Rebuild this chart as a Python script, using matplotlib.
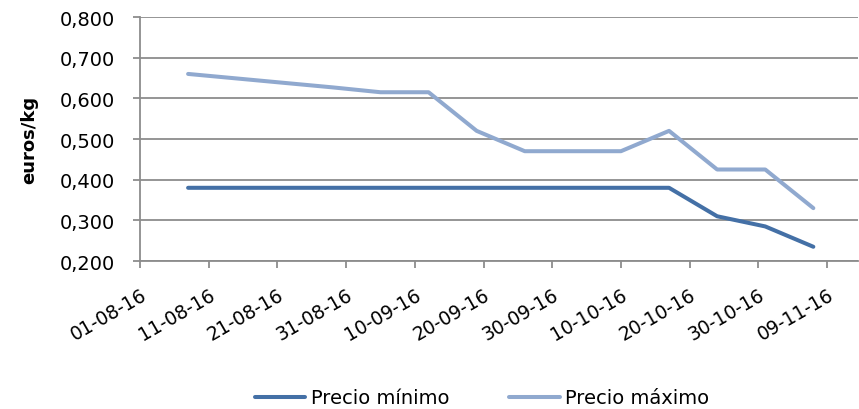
import matplotlib
matplotlib.use("Agg")
import matplotlib.pyplot as plt
import matplotlib.dates as mdates
import matplotlib.transforms as mtransforms
import pandas as pd

# ---- data ----
dates = ["2016-08-08", "2016-08-15", "2016-08-22", "2016-08-29", "2016-09-05",
         "2016-09-12", "2016-09-19", "2016-09-26", "2016-10-03", "2016-10-10",
         "2016-10-17", "2016-10-24", "2016-10-31", "2016-11-07"]
precio_minimo = [0.380, 0.380, 0.380, 0.380, 0.380, 0.380, 0.380, 0.380, 0.380,
                 0.380, 0.380, 0.310, 0.285, 0.235]
precio_maximo = [0.660, 0.649, 0.638, 0.627, 0.615, 0.615, 0.520, 0.470, 0.470,
                 0.470, 0.520, 0.425, 0.425, 0.330]
tick_dates = ["2016-08-01", "2016-08-11", "2016-08-21", "2016-08-31", "2016-09-10",
              "2016-09-20", "2016-09-30", "2016-10-10", "2016-10-20", "2016-10-30",
              "2016-11-09"]
tick_labels = ["01-08-16", "11-08-16", "21-08-16", "31-08-16", "10-09-16",
               "20-09-16", "30-09-16", "10-10-16", "20-10-16", "30-10-16",
               "09-11-16"]
y_ticks = [0.2, 0.3, 0.4, 0.5, 0.6, 0.7, 0.8]
y_labels = ["0,200", "0,300", "0,400", "0,500", "0,600", "0,700", "0,800"]
series_names = ["Precio mínimo", "Precio máximo"]

plt.rcParams['font.family'] = ['DejaVu Sans']

fig = plt.figure(figsize=(8.59, 4.10), dpi=100)
ax = fig.add_axes([140/859, 1 - 262/410, 718/859, 244/410])

x = pd.to_datetime(dates)
ax.plot(x, precio_minimo, color='#4470a6', lw=2.9, solid_capstyle='round',
        solid_joinstyle='round', label=series_names[0], zorder=3)
ax.plot(x, precio_maximo, color='#90a9cf', lw=2.9, solid_capstyle='round',
        solid_joinstyle='round', label=series_names[1], zorder=3)

x0 = pd.Timestamp("2016-08-01")
ax.set_xlim(mdates.date2num(x0), mdates.date2num(x0) + 104.5)
ax.set_ylim(0.2, 0.8)

ax.set_yticks(y_ticks)
ax.set_yticklabels(y_labels, fontsize=14)
ax.set_xticks(pd.to_datetime(tick_dates))
ax.set_xticklabels(tick_labels, fontsize=13.5, rotation=30, ha='right',
                   rotation_mode='anchor')
shift = mtransforms.ScaledTranslation(3/100, 0, fig.dpi_scale_trans)
for lab in ax.get_xticklabels():
    lab.set_transform(lab.get_transform() + shift)

ax.grid(axis='y', color='#8c8c8c', lw=1.3)
ax.set_axisbelow(True)
for s in ['top', 'right']:
    ax.spines[s].set_visible(False)
for s in ['left', 'bottom']:
    ax.spines[s].set_color('#8c8c8c')
    ax.spines[s].set_linewidth(1.3)
ax.tick_params(axis='both', color='#8c8c8c', width=1.3, length=5)
ax.tick_params(axis='x', pad=12)
ax.tick_params(axis='y', pad=13)

ax.set_ylabel("euros/kg", fontsize=13, fontweight='bold')
ax.yaxis.set_label_coords(-0.142, 0.5)

fig.legend(loc='center', bbox_to_anchor=(482/859, 1 - 399/410), ncol=2,
           frameon=False, fontsize=14, handlelength=2.6, handletextpad=0.26,
           columnspacing=3.1)

fig.savefig("out.png", dpi=100)
